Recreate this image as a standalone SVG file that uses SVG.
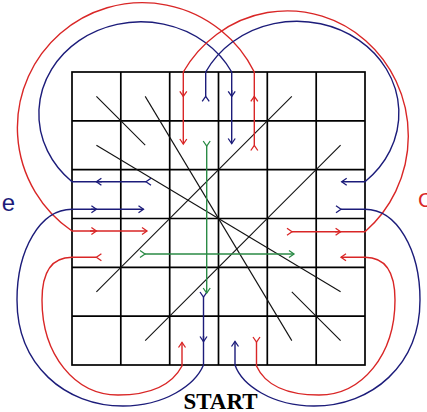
<svg xmlns="http://www.w3.org/2000/svg" width="427" height="412" viewBox="0 0 427 412">
<style>
.grid{stroke:#000;stroke-width:1.7;fill:none}
.diag{stroke:#111;stroke-width:1.1;fill:none}
.r{stroke:#d92626;stroke-width:1.4;fill:none}
.b{stroke:#1c1c7a;stroke-width:1.4;fill:none}
.g{stroke:#2a8a45;stroke-width:1.4;fill:none}
.lbl{font-family:"Liberation Sans",Arial,sans-serif}
</style>
<defs>
<marker id="mr" viewBox="-7 -5 9 10" refX="0" refY="0" markerWidth="9" markerHeight="10" markerUnits="userSpaceOnUse" orient="auto" overflow="visible"><path d="M -5 -3.5 L 0 0 L -5 3.5" fill="none" stroke="#d92626" stroke-width="1.3"/></marker>
<marker id="mb" viewBox="-7 -5 9 10" refX="0" refY="0" markerWidth="9" markerHeight="10" markerUnits="userSpaceOnUse" orient="auto" overflow="visible"><path d="M -5 -3.5 L 0 0 L -5 3.5" fill="none" stroke="#1c1c7a" stroke-width="1.3"/></marker>
<marker id="mg" viewBox="-7 -5 9 10" refX="0" refY="0" markerWidth="9" markerHeight="10" markerUnits="userSpaceOnUse" orient="auto" overflow="visible"><path d="M -5 -3.5 L 0 0 L -5 3.5" fill="none" stroke="#2a8a45" stroke-width="1.3"/></marker>
</defs>
<rect width="427" height="412" fill="#fff"/>
<g id="board" class="grid">
<rect x="72" y="72" width="293" height="293"/>
<path d="M120.8 72V365M169.7 72V365M218.5 72V365M267.3 72V365M316.2 72V365M72 120.8H365M72 169.7H365M72 218.5H365M72 267.3H365M72 316.2H365"/>
</g>
<g id="moves" class="diag">
<path d="M96.4 96.4L145.2 145.2"/>
<path d="M145.2 96.4L291.8 340.6"/>
<path d="M96.4 145.2L340.6 291.8"/>
<path d="M291.8 291.8L340.6 340.6"/>
<path d="M291.8 96.4L96.4 291.8"/>
<path d="M340.6 145.2L145.2 340.6"/>
</g>
<g id="connectors">
<g id="red-top-left">
<path class="r" d="M254.3 145.5L254.3 72A125 125 0 1 0 72 231L147 231" marker-start="url(#mr)" marker-end="url(#mr)"/>
<path class="r" d="M254.3 102L254.3 96.4" marker-end="url(#mr)"/>
<path class="r" d="M90 231L96.4 231" marker-end="url(#mr)"/>
</g>
<g id="blue-top-left">
<path class="b" d="M146 181.7L72 181.7A102 92 0 1 1 231.7 72L231.7 143.5" marker-start="url(#mb)" marker-end="url(#mb)"/>
<path class="b" d="M102 181.7L96.4 181.7" marker-end="url(#mb)"/>
<path class="b" d="M231.7 90L231.7 96.4" marker-end="url(#mb)"/>
</g>
<g id="red-top-right">
<path class="r" d="M292 231.7L365 231.7A121 125 0 1 0 183.3 72L183.3 144" marker-start="url(#mr)" marker-end="url(#mr)"/>
<path class="r" d="M335 231.7L340.6 231.7" marker-end="url(#mr)"/>
<path class="r" d="M183.3 90L183.3 96.4" marker-end="url(#mr)"/>
</g>
<g id="blue-top-right">
<path class="b" d="M205.7 96.4L205.7 72A102 92 0 1 1 365 181.7L341.7 181.7" marker-start="url(#mb)" marker-end="url(#mb)"/>
</g>
<g id="blue-bottom-left">
<path class="b" d="M203.5 297L203.5 365C195 385 165 406 123 406C65 406 17 365 17 300C17 250 40 209.3 72 209.3L143.5 209.3" marker-start="url(#mb)" marker-end="url(#mb)"/>
<path class="b" d="M203.5 336L203.5 341.5" marker-end="url(#mb)"/>
<path class="b" d="M91 209.3L96.4 209.3" marker-end="url(#mb)"/>
</g>
<g id="red-bottom-left">
<path class="r" d="M96.4 257.3L72 257.3C52 257.3 42 272 42 300C42 355 75 395 118 395C150 395 172 385 182 366L182 342.5" marker-start="url(#mr)" marker-end="url(#mr)"/>
</g>
<g id="blue-bottom-right">
<path class="b" d="M341 209.3L365 209.3C397 209.3 420 250 420 300C420 365 372 406 314 406C272 406 242 385 235 365L235 341.5" marker-start="url(#mb)" marker-end="url(#mb)"/>
</g>
<g id="red-bottom-right">
<path class="r" d="M256.5 342L256.5 366C265 385 287 395 319 395C362 395 395 355 395 300C395 272 385 257.3 365 257.3L341 257.3" marker-start="url(#mr)" marker-end="url(#mr)"/>
</g>
<g id="green">
<path class="g" d="M206.7 146L206.7 293" marker-start="url(#mg)" marker-end="url(#mg)"/>
<path class="g" d="M145 254L294 254" marker-start="url(#mg)" marker-end="url(#mg)"/>
</g>
</g>
<g id="labels">
<text class="lbl" x="1.8" y="210.5" font-size="24" fill="#1c1c7a">e</text>
<text class="lbl" x="418" y="206.5" font-size="21" fill="#d92626">C</text>
<text x="220.5" y="409" font-family="'Liberation Serif','Times New Roman',serif" font-weight="bold" font-size="23" text-anchor="middle" fill="#000">START</text>
</g>
</svg>
